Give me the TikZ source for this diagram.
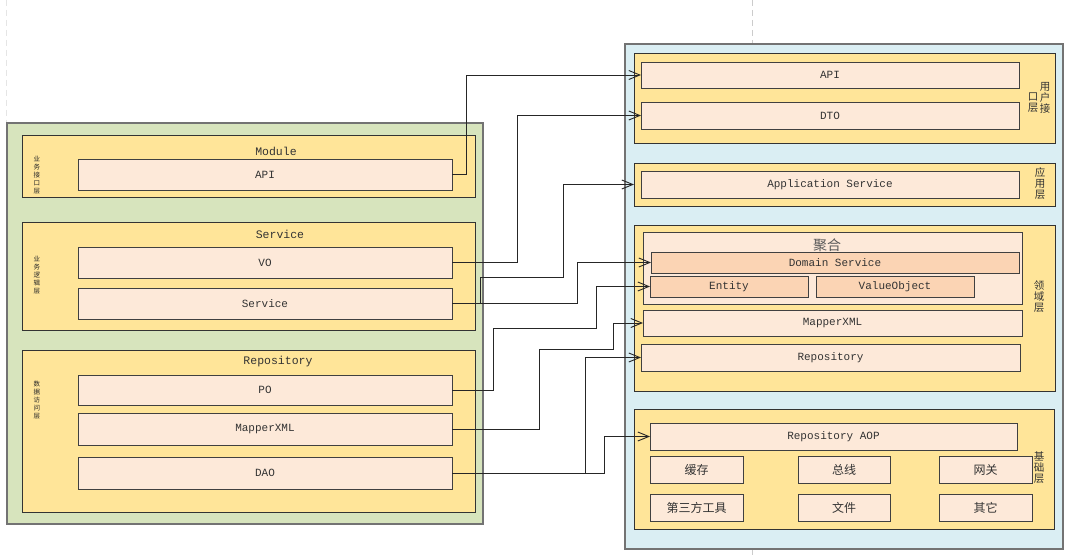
\documentclass[tikz,border=0pt]{standalone}
\usepackage{fontspec}
\usetikzlibrary{arrows.meta}
\newfontfamily\mono{Liberation Mono}
\newfontfamily\cjk{Noto Sans CJK SC}
\definecolor{cgreen}{HTML}{D7E4BD}
\definecolor{cblue}{HTML}{DAEEF3}
\definecolor{cyellow}{HTML}{FFE599}
\definecolor{cpeach}{HTML}{FDE9D9}
\definecolor{cpeachd}{HTML}{FBD4B4}
\definecolor{ctext}{HTML}{333333}
\newcommand\mybox[7]{\node[#1, minimum width={(#5-#3)*1pt}, minimum height={(#6-#4)*1pt}] (#2) at ({(#3+#5)/2},{(#4+#6)/2}) {#7};}
\tikzset{
  base/.style={inner sep=0pt, outer sep=0pt, rectangle},
  container/.style={base, draw=black!55, line width=1.3pt},
  panel/.style={base, fill=cyellow, draw=black!80, line width=0.9pt},
  item/.style={base, fill=cpeach, draw=black!75, line width=0.8pt, text=ctext, font=\mono\fontsize{11}{13}\selectfont},
  itemd/.style={item, fill=cpeachd},
  citem/.style={item, font=\cjk\fontsize{12}{14}\selectfont},
  title/.style={inner sep=0pt, text=ctext, font=\mono\fontsize{11.5}{13}\selectfont},
  vlabs/.style={inner sep=0pt, align=center, text=black!85, font=\cjk\fontsize{6.5}{8}\selectfont},
  vlab/.style={inner sep=0pt, align=center, text=ctext, font=\cjk\fontsize{10.5}{11}\selectfont},
  conn/.style={draw=black!85, line width=0.9pt, -{Straight Barb[length=11pt,width=9pt]}},
  pagebreak/.style={draw=black!20, dash pattern=on 6pt off 4pt, line width=0.8pt}
}
\begin{document}
\begin{tikzpicture}[x=1pt,y=-1pt]
\useasboundingbox (0,0) rectangle (1080,559);
\fill[white] (0,0) rectangle (1080,559);
% page break lines
\coordinate (pbA) at (752,0);
\coordinate (pbB) at (752,44);
\coordinate (pbC) at (752,549);
\coordinate (pbD) at (752,559);
\coordinate (pbE) at (6,0);
\coordinate (pbF) at (6,123);
\draw[pagebreak] (pbA) -- (pbB);
\draw[pagebreak] (pbC) -- (pbD);
\draw[pagebreak, draw=black!10] (pbE) -- (pbF);
% containers
\mybox{container, fill=cgreen}{left}{7}{123}{483}{524}{}
\mybox{container, fill=cblue}{right}{625}{44}{1063}{549}{}
% left panels
\mybox{panel}{pmod}{22}{135}{475}{197}{}
\mybox{panel}{psvc}{22}{222}{475}{330}{}
\mybox{panel}{prep}{22}{350}{475}{512}{}
\node[title] (tmod) at (276,151) {Module};
\node[title] (tsvc) at (280,234) {Service};
\node[title] (trep) at (278,362) {Repository};
\node[vlabs] (lmod) at (37,175) {业\\务\\接\\口\\层};
\node[vlabs] (lsvc) at (37,275) {业\\务\\逻\\辑\\层};
\node[vlabs] (lrep) at (37,400) {数\\据\\访\\问\\层};
\mybox{item}{mapi}{78}{159}{452}{190}{API}
\mybox{item}{vo}{78}{247}{452}{278}{VO}
\mybox{item}{svc}{78}{288}{452}{319}{Service}
\mybox{item}{po}{78}{375}{452}{405}{PO}
\mybox{item}{mxml}{78}{413}{452}{445}{MapperXML}
\mybox{item}{dao}{78}{457}{452}{489}{DAO}
% right panels
\mybox{panel}{pui}{634}{53}{1055}{143}{}
\mybox{panel}{papp}{634}{163}{1055}{206}{}
\mybox{panel}{pdom}{634}{225}{1055}{391}{}
\mybox{panel}{pinf}{634}{409}{1054}{529}{}
\node[vlab] (lui1) at (1045,98) {用\\户\\接};
\node[vlab] (lui2) at (1033,103) {口\\层};
\node[vlab] (lapp) at (1040,184) {应\\用\\层};
\node[vlab] (ldom) at (1039,297) {领\\域\\层};
\node[vlab] (linf) at (1039,468) {基\\础\\层};
\mybox{item}{rapi}{641}{62}{1019}{88}{API}
\mybox{item}{dto}{641}{102}{1019}{129}{DTO}
\mybox{item}{appsvc}{641}{171}{1019}{198}{Application Service}
\mybox{item}{agg}{643}{232}{1022}{304}{}
\node[inner sep=0pt, text=black!65, font=\cjk\fontsize{14}{16}\selectfont] (tagg) at (827,245) {聚合};
\mybox{itemd}{dsvc}{651}{252}{1019}{273}{Domain Service}
\mybox{itemd}{entity}{650}{276}{808}{297}{Entity}
\mybox{itemd}{vobj}{816}{276}{974}{297}{ValueObject}
\mybox{item}{rmxml}{643}{310}{1022}{336}{MapperXML}
\mybox{item}{repo}{641}{344}{1020}{371}{Repository}
\mybox{item}{aop}{650}{423}{1017}{450}{Repository AOP}
\mybox{citem}{cache}{650}{456}{743}{483}{缓存}
\mybox{citem}{bus}{798}{456}{890}{483}{总线}
\mybox{citem}{gw}{939}{456}{1032}{483}{网关}
\mybox{citem}{tools}{650}{494}{743}{521}{第三方工具}
\mybox{citem}{file}{798}{494}{890}{521}{文件}
\mybox{citem}{other}{939}{494}{1032}{521}{其它}
% connectors
\draw[conn] (mapi.east) -- ++(14,0) |- (rapi.west);
\draw[conn] (vo.east) -- ++(65,0) |- (dto.west);
\draw[conn] (svc.east) -- ++(125,0) |- (dsvc.west);
\draw[conn] (svc.east) -- ++(28,0) -- ++(0,-26) -- ++(83,0) |- (papp.west);
\draw[conn] (po.east) -- ++(41,0) -- ++(0,-62) -- ++(103,0) |- (entity.west);
\draw[conn] (mxml.east) -- ++(87,0) -- ++(0,-80) -- ++(74,0) |- (rmxml.west);
\draw[conn] (dao.east) -- ++(133,0) |- (repo.west);
\draw[conn] (dao.east) -- ++(152,0) |- (aop.west);
\end{tikzpicture}
\end{document}
